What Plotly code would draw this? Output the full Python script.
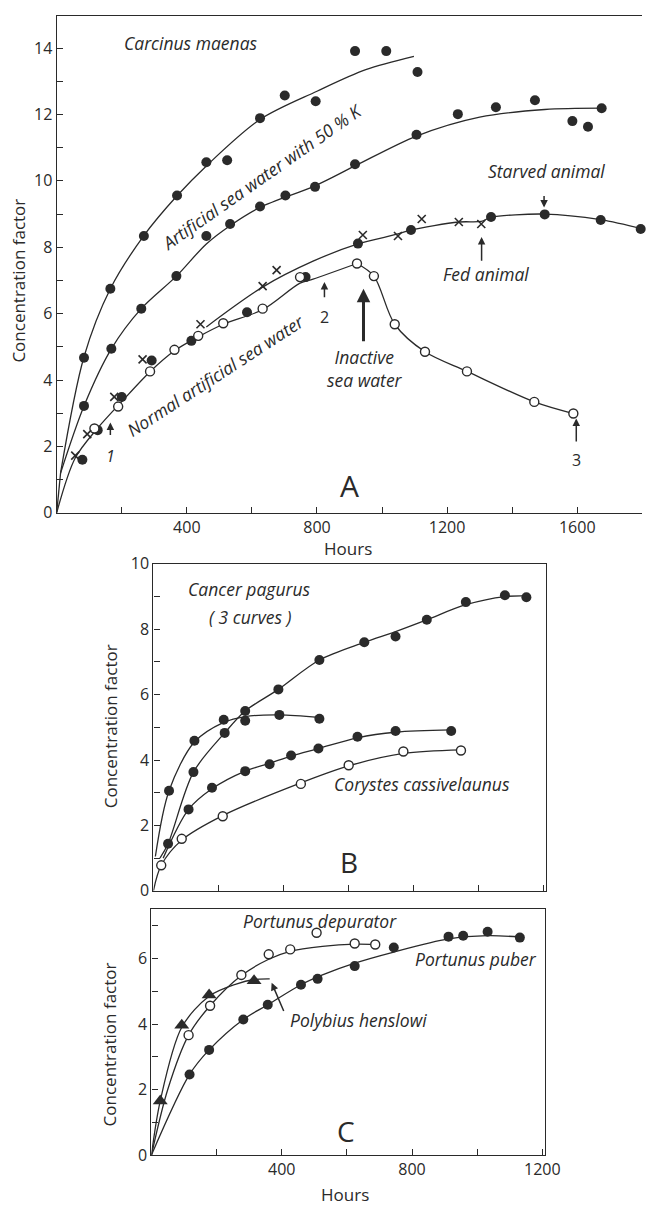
import plotly.graph_objects as go

INK = "#2a2a2a"
FONT = "Open Sans"

# ---------------- Panel A : Carcinus maenas ----------------
# Artificial sea water with 50 % K (upper curve)
a1_x = [84, 165, 268, 370, 460, 524, 625, 701, 796, 917, 1013, 1109]
a1_y = [4.67, 6.75, 8.34, 9.56, 10.56, 10.62, 11.89, 12.57, 12.40, 13.91, 13.91, 13.28]
a1_lx = [12, 84, 165, 268, 370, 460, 625, 800, 950, 1098]
a1_ly = [1.2, 4.7, 6.75, 8.35, 9.55, 10.45, 11.85, 12.7, 13.35, 13.75]

# second curve (filled)
a2_x = [84, 168, 260, 368, 460, 533, 625, 703, 794, 917, 1106, 1233, 1350, 1470, 1585, 1633, 1675]
a2_y = [3.22, 4.94, 6.15, 7.13, 8.34, 8.70, 9.23, 9.56, 9.82, 10.50, 11.39, 12.01, 12.22, 12.43, 11.80, 11.63, 12.19]
a2_lx = [12, 84, 168, 260, 368, 460, 533, 625, 794, 917, 1106, 1300, 1500, 1675]
a2_ly = [1.2, 3.22, 4.94, 6.15, 7.13, 8.1, 8.65, 9.2, 9.85, 10.45, 11.35, 11.92, 12.15, 12.19]

# short start segment of the two upper curves, from the origin
a12_stub_x = [0, 12]
a12_stub_y = [0, 1.2]

# Normal artificial sea water: fed animal (crosses)
a3x_x = [57, 94, 177, 264, 442, 633, 676, 941, 1049, 1122, 1236, 1305]
a3x_y = [1.72, 2.37, 3.49, 4.62, 5.68, 6.83, 7.31, 8.37, 8.34, 8.85, 8.76, 8.70]
# starved animal (filled)
a3f_x = [79, 126, 200, 292, 414, 585, 765, 926, 1089, 1335, 1500, 1672, 1795]
a3f_y = [1.60, 2.49, 3.49, 4.59, 5.18, 6.04, 7.10, 8.11, 8.52, 8.91, 8.99, 8.82, 8.55]
# open circles (then inactive sea water)
a3o_x = [116, 189, 287, 362, 435, 512, 633, 748, 923, 975, 1039, 1132, 1261, 1468, 1588]
a3o_y = [2.54, 3.20, 4.26, 4.91, 5.33, 5.71, 6.15, 7.10, 7.51, 7.13, 5.68, 4.85, 4.26, 3.34, 2.99]

a3_rise_lx = [0, 57, 126, 200, 287, 362, 435, 512, 633, 748, 788, 923]
a3_rise_ly = [0, 1.65, 2.55, 3.35, 4.25, 4.88, 5.3, 5.68, 6.12, 6.92, 7.04, 7.51]
a3_fall_lx = [923, 975, 1039, 1132, 1261, 1468, 1588]
a3_fall_ly = [7.51, 7.13, 5.68, 4.85, 4.26, 3.34, 2.99]
a3_upper_lx = [460, 633, 788, 926, 1049, 1089, 1236, 1305, 1335, 1500, 1672, 1800]
a3_upper_ly = [5.6, 6.8, 7.58, 8.1, 8.4, 8.52, 8.76, 8.78, 8.9, 9.0, 8.83, 8.55]

a_xticks = [400, 800, 1200, 1600]
a_yticks = [0, 2, 4, 6, 8, 10, 12, 14]

# ---------------- Panel B : Cancer pagurus / Corystes ----------------
ba_x = [48, 126, 216, 282, 387, 510]
ba_y = [3.06, 4.59, 5.23, 5.20, 5.38, 5.26]
ba_lx = [6, 48, 126, 216, 282, 387, 510]
ba_ly = [1.05, 3.06, 4.55, 5.15, 5.33, 5.38, 5.3]

bb_x = [45, 123, 219, 282, 384, 510, 648, 744, 840, 960, 1080, 1146]
bb_y = [1.44, 3.63, 4.83, 5.50, 6.16, 7.06, 7.60, 7.78, 8.29, 8.83, 9.04, 8.98]
bb_lx = [20, 45, 123, 219, 282, 384, 510, 648, 744, 840, 960, 1080, 1146]
bb_ly = [1.0, 1.44, 3.63, 4.83, 5.5, 6.16, 7.06, 7.6, 7.93, 8.29, 8.75, 9.0, 9.02]

bc_x = [108, 180, 282, 357, 423, 507, 627, 744, 915]
bc_y = [2.49, 3.15, 3.66, 3.87, 4.14, 4.35, 4.71, 4.89, 4.89]
bc_lx = [30, 108, 180, 282, 357, 423, 507, 627, 744, 915]
bc_ly = [1.0, 2.49, 3.12, 3.66, 3.9, 4.12, 4.35, 4.68, 4.85, 4.92]

bo_x = [24, 87, 213, 453, 600, 768, 945]
bo_y = [0.78, 1.59, 2.28, 3.27, 3.84, 4.26, 4.29]
bo_lx = [0, 24, 87, 213, 453, 600, 768, 945]
bo_ly = [0, 0.78, 1.55, 2.3, 3.3, 3.82, 4.2, 4.31]

b_yticks = [0, 2, 4, 6, 8, 10]

# ---------------- Panel C : Portunus / Polybius ----------------
ct_x = [27, 93, 177, 315]
ct_y = [1.65, 3.96, 4.89, 5.32]
ct_lx = [0, 27, 93, 177, 260, 315, 363]
ct_ly = [0, 1.65, 3.9, 4.85, 5.22, 5.36, 5.38]

co_x = [114, 180, 276, 360, 426, 507, 624, 687]
co_y = [3.66, 4.56, 5.50, 6.13, 6.28, 6.79, 6.46, 6.43]
co_lx = [0, 50, 114, 180, 276, 360, 426, 525, 624, 687]
co_ly = [0, 2.0, 3.66, 4.56, 5.48, 5.98, 6.22, 6.37, 6.44, 6.43]

cf_x = [117, 177, 282, 357, 459, 510, 624, 744, 912, 957, 1032, 1131]
cf_y = [2.46, 3.21, 4.14, 4.59, 5.20, 5.38, 5.77, 6.34, 6.67, 6.70, 6.82, 6.64]
cf_lx = [0, 117, 177, 282, 357, 459, 525, 624, 744, 912, 1032, 1131]
cf_ly = [0, 2.46, 3.21, 4.14, 4.59, 5.2, 5.5, 5.86, 6.2, 6.6, 6.7, 6.66]

c_xticks = [400, 800, 1200]
c_yticks = [0, 2, 4, 6]

fig = go.Figure()


def add_line(x, y, xa, ya, shape="spline"):
    fig.add_trace(go.Scatter(x=x, y=y, mode="lines", xaxis=xa, yaxis=ya,
                             line=dict(color=INK, width=1.3, shape=shape,
                                       smoothing=0.9 if shape == "spline" else None),
                             hoverinfo="skip", showlegend=False))


def add_pts(x, y, xa, ya, kind):
    if kind == "filled":
        m = dict(symbol="circle", size=10, color=INK, line=dict(width=0))
    elif kind == "open":
        m = dict(symbol="circle", size=9, color="white", line=dict(color=INK, width=1.4))
    elif kind == "cross":
        m = dict(symbol="x-thin", size=8, line=dict(color=INK, width=1.6))
    else:
        m = dict(symbol="triangle-up", size=13, color=INK, line=dict(width=0))
    fig.add_trace(go.Scatter(x=x, y=y, mode="markers", xaxis=xa, yaxis=ya, marker=m,
                             cliponaxis=False, hoverinfo="skip", showlegend=False))


# Panel A
add_line(a12_stub_x, a12_stub_y, "x", "y", shape="linear")
add_line(a1_lx, a1_ly, "x", "y")
add_line(a2_lx, a2_ly, "x", "y")
add_line(a3_rise_lx, a3_rise_ly, "x", "y")
add_line(a3_fall_lx, a3_fall_ly, "x", "y")
add_line(a3_upper_lx, a3_upper_ly, "x", "y")
add_pts(a1_x, a1_y, "x", "y", "filled")
add_pts(a2_x, a2_y, "x", "y", "filled")
add_pts(a3f_x, a3f_y, "x", "y", "filled")
add_pts(a3o_x, a3o_y, "x", "y", "open")
add_pts(a3x_x, a3x_y, "x", "y", "cross")

# Panel B
add_line(ba_lx, ba_ly, "x2", "y2")
add_line(bb_lx, bb_ly, "x2", "y2")
add_line(bc_lx, bc_ly, "x2", "y2")
add_line(bo_lx, bo_ly, "x2", "y2")
add_pts(ba_x, ba_y, "x2", "y2", "filled")
add_pts(bb_x, bb_y, "x2", "y2", "filled")
add_pts(bc_x, bc_y, "x2", "y2", "filled")
add_pts(bo_x, bo_y, "x2", "y2", "open")

# Panel C
add_line(ct_lx, ct_ly, "x3", "y3")
add_line(co_lx, co_ly, "x3", "y3")
add_line(cf_lx, cf_ly, "x3", "y3")
add_pts(ct_x, ct_y, "x3", "y3", "tri")
add_pts(co_x, co_y, "x3", "y3", "open")
add_pts(cf_x, cf_y, "x3", "y3", "filled")

tickfont = dict(family=FONT, size=16, color=INK)
common = dict(showgrid=False, zeroline=False, showline=True, linecolor=INK, linewidth=1.3,
              ticks="inside", ticklen=6, tickwidth=1.2, tickcolor=INK, tickfont=tickfont)

fig.update_layout(
    width=657, height=1218, margin=dict(l=0, r=0, t=0, b=0),
    paper_bgcolor="white", plot_bgcolor="white", showlegend=False,
    xaxis=dict(domain=[58 / 657, 1.0], range=[0, 1799], anchor="y", mirror=True,
               tickmode="array", tickvals=a_xticks,
               minor=dict(dtick=200, tick0=0, ticks="inside", ticklen=6, tickcolor=INK), **common),
    yaxis=dict(domain=[1 - 511 / 1218, 1 - 5 / 1218], range=[0, 14.97], anchor="x",
               tickmode="array", tickvals=a_yticks,
               minor=dict(dtick=1, tick0=0, ticks="inside", ticklen=6, tickcolor=INK), **common),
    xaxis2=dict(domain=[157 / 657, 559 / 657], range=[0, 1207], anchor="y2", mirror=True,
                tickmode="linear", tick0=0, dtick=200, showticklabels=False, **common),
    yaxis2=dict(domain=[1 - 896 / 1218, 1 - 563 / 1218], range=[0, 10.0], anchor="x2", mirror=True,
                tickmode="array", tickvals=b_yticks,
                minor=dict(dtick=1, tick0=0, ticks="inside", ticklen=6, tickcolor=INK), **common),
    xaxis3=dict(domain=[155 / 657, 558 / 657], range=[0, 1209], anchor="y3", mirror=True,
                tickmode="array", tickvals=c_xticks,
                minor=dict(dtick=200, tick0=0, ticks="inside", ticklen=6, tickcolor=INK), **common),
    yaxis3=dict(domain=[1 - 1165 / 1218, 1 - 915 / 1218], range=[0, 7.5], anchor="x3", mirror=True,
                tickmode="array", tickvals=c_yticks,
                minor=dict(dtick=1, tick0=0, ticks="inside", ticklen=6, tickcolor=INK), **common),
)

ann = []
LBL = 17.5


def txt(x, y, s, xr, yr, size=LBL, italic=True, angle=0):
    st = "italic" if italic else "normal"
    ann.append(dict(x=x, y=y, xref=xr, yref=yr, text=s, showarrow=False, textangle=angle,
                    xanchor="center", yanchor="middle",
                    font=dict(family=FONT, size=size, color=INK, style=st)))


def arrow(x, y, tx, ty, xr, yr, head=2, size=1.0, width=1.5):
    ann.append(dict(x=x, y=y, ax=tx, ay=ty, xref=xr, yref=yr, axref=xr, ayref=yr, text="",
                    showarrow=True, arrowhead=head, arrowsize=size, arrowwidth=width,
                    arrowcolor=INK, standoff=0, startstandoff=0))


# Panel A texts
txt(414, 14.15, "Carcinus maenas", "x", "y")
txt(632, 10.15, "Artificial sea water with 50 % K", "x", "y", angle=-35)
txt(489, 4.15, "Normal artificial sea water", "x", "y", angle=-33)
txt(1507, 10.3, "Starved animal", "x", "y")
txt(1321, 7.19, "Fed animal", "x", "y")
txt(949, 4.35, "Inactive<br>sea water", "x", "y")
txt(901, 0.83, "A", "x", "y", size=30, italic=False)
txt(165, 1.72, "1", "x", "y", size=16)
txt(823, 5.89, "2", "x", "y", size=16, italic=False)
txt(1597, 1.6, "3", "x", "y", size=16, italic=False)
arrow(165, 2.72, 165, 2.3, "x", "y")
arrow(823, 6.95, 823, 6.45, "x", "y")
arrow(943, 6.75, 943, 5.12, "x", "y", head=2, size=0.9, width=3)
arrow(1306, 8.31, 1306, 7.55, "x", "y")
arrow(1498, 9.2, 1498, 9.59, "x", "y")
arrow(1597, 2.84, 1597, 2.1, "x", "y")

# Panel B texts
txt(294, 9.22, "Cancer pagurus", "x2", "y2")
txt(297, 8.38, "( 3 curves )", "x2", "y2")
txt(825, 3.27, "Corystes cassivelaunus", "x2", "y2")
txt(600, 0.87, "B", "x2", "y2", size=28, italic=False)

# Panel C texts
txt(516, 7.15, "Portunus depurator", "x3", "y3")
txt(996, 5.98, "Portunus puber", "x3", "y3")
txt(637, 4.11, "Polybius henslowi", "x3", "y3")
txt(597, 0.72, "C", "x3", "y3", size=28, italic=False)
arrow(369, 5.26, 408, 4.35, "x3", "y3")

# axis titles
title_font = dict(family=FONT, size=17, color=INK)


def ptitle(px, py, s, angle=0):
    ann.append(dict(x=px / 657, y=1 - py / 1218, xref="paper", yref="paper", text=s,
                    textangle=angle, showarrow=False, xanchor="center", yanchor="middle",
                    font=title_font))


ptitle(18, 275, "Concentration factor", -90)
ptitle(113, 728, "Concentration factor", -90)
ptitle(113, 1052, "Concentration factor", -90)
ptitle(356, 547, "Hours")
ptitle(353, 1205, "Hours")

fig.update_layout(annotations=ann)
fig.write_html("out.html")
